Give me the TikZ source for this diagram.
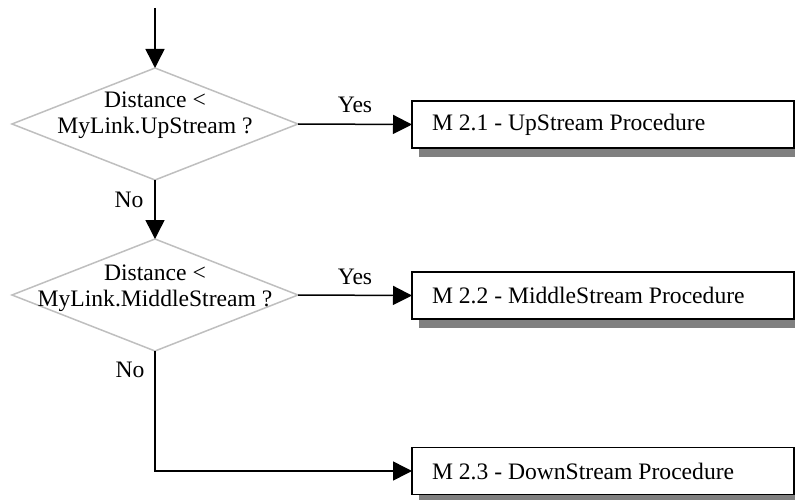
\documentclass[tikz,border=0pt]{standalone}
\usepackage{fontspec}
\setmainfont{Liberation Serif}
\usetikzlibrary{arrows.meta,shapes.geometric,calc,backgrounds}

\tikzset{
  decision/.style={diamond, draw=black!25, line width=1.5pt, fill=white,
    minimum width=286pt, minimum height=112pt, inner sep=0pt, outer sep=0pt},
  qtext/.style={align=center, inner sep=0pt, font=\fontsize{23.6}{26.5}\selectfont},
  procbox/.style={rectangle, draw=black, line width=1.5pt, fill=white,
    minimum width=382pt, minimum height=47pt, outer sep=0pt,
    inner sep=0pt, font=\fontsize{23.6}{26}\selectfont},
  boxshadow/.style={fill=black!50},
  lbl/.style={inner sep=0pt, font=\fontsize{23.6}{26}\selectfont},
  flow/.style={line width=1.5pt, -{Triangle[length=19pt,width=19pt]}}
}
% box caption: left-aligned, 20pt in from the left border
\newcommand{\proctext}[1]{\makebox[382pt][l]{\hspace{20pt}#1}}

\begin{document}
\begin{tikzpicture}[x=1pt, y=-1pt]
  \useasboundingbox (0,0) rectangle (795,500);
  \clip (0,0) rectangle (795,500);

  % decisions
  \node[decision] (d1) at (155,124) {};
  \node[qtext] (q1) at ($(d1)+(0,-9)$) {Distance <\\MyLink.UpStream ?};
  \node[decision] (d2) at (155,295) {};
  \node[qtext] (q2) at ($(d2)+(0,-7)$) {Distance <\\MyLink.MiddleStream ?};

  % procedures
  \node[procbox, anchor=west] (b1) at (412,124.5) {\proctext{M 2.1 - UpStream Procedure}};
  \node[procbox, anchor=west] (b2) at (412,295.5) {\proctext{M 2.2 - MiddleStream Procedure}};
  \node[procbox, anchor=west] (b3) at (412,471) {\proctext{M 2.3 - DownStream Procedure}};

  % offset shadows behind the procedure boxes
  \begin{scope}[on background layer]
    \foreach \b in {b1,b2,b3}
      \fill[boxshadow] ($(\b.north west)+(7,9)$) rectangle ($(\b.south east)+(7,9)$);
  \end{scope}

  % entry
  \coordinate (start) at (155,8);
  \draw[flow] (start) -- (d1.north);

  % branches
  \draw[flow] (d1.east) -- (b1.west);
  \node[lbl, anchor=base] (y1) at (355,113) {Yes};
  \draw[flow] (d1.south) -- (d2.north);
  \node[lbl] (n1) at (129,200) {No};

  \draw[flow] (d2.east) -- (b2.west);
  \node[lbl, anchor=base] (y2) at (355,284) {Yes};
  \draw[flow] (d2.south) |- (b3.west);
  \node[lbl] (n2) at (130,370) {No};
\end{tikzpicture}
\end{document}
